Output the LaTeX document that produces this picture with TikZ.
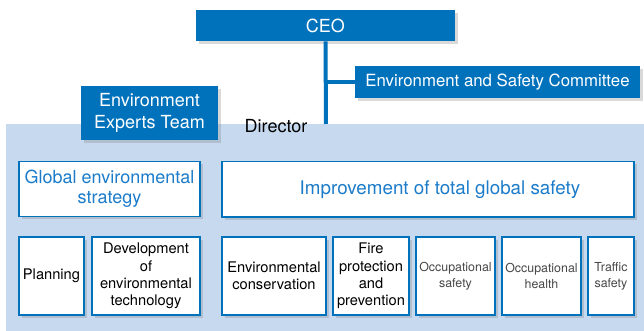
\documentclass[tikz,border=0pt]{standalone}
\usepackage{fontspec}
\setmainfont{TeX Gyre Heros}
\usepackage{xcolor}
\usetikzlibrary{shadows}
\definecolor{orgblue}{RGB}{0,114,188}
\definecolor{orgtext}{RGB}{28,124,202}
\definecolor{orgpale}{RGB}{198,217,239}

\begin{document}
\begin{tikzpicture}[x=0.75pt,y=-0.75pt,
  boxshadow/.style={drop shadow={shadow xshift=2pt,shadow yshift=-2pt,opacity=0.3}},
  bluebox/.style={fill=orgblue,text=white,inner sep=0pt,align=center,boxshadow,
    font=\fontsize{13.5}{16}\selectfont},
  headbox/.style={draw=orgblue,line width=1pt,fill=white,text=orgtext,inner sep=0pt,
    align=center,boxshadow,minimum height=41.5pt,font=\fontsize{13.5}{15}\selectfont},
  unitbox/.style={draw=orgblue,line width=1pt,fill=white,inner sep=0pt,align=center,
    boxshadow,minimum height=58.5pt,font=\fontsize{11}{13}\selectfont},
  thinunit/.style={unitbox,text=black!72,font=\fontsize{9.3}{12}\selectfont},
  orgline/.style={orgblue,line width=3pt}]
\useasboundingbox (0,0) rectangle (644,331);
% fond de la direction
\fill[orgpale] (6,124) rectangle (644,331);

\node[bluebox,minimum width=194.25pt,minimum height=23.25pt] (ceo) at (325.5,25.5) {CEO};
\coordinate (dir) at (326,124);
\draw[orgline] (ceo.south) -- (dir);
\node[bluebox,minimum width=213.75pt,minimum height=24pt,
  font=\fontsize{12.6}{15}\selectfont] (committee) at (497.5,82)
  {Environment and Safety Committee};
\draw[orgline] (ceo.south |- committee.west) -- (committee.west);
\node[bluebox,minimum width=102.75pt,minimum height=40.5pt] (experts) at (149.5,113)
  {Environment\\Experts Team};
\node[font=\fontsize{13.5}{16}\selectfont] (director) at (276,126) {Director};

% deux grands axes
\node[headbox,minimum width=135.75pt] (global) at (109.5,189)
  {Global environmental\\strategy};
\node[headbox,minimum width=309pt,font=\fontsize{14.1}{16}\selectfont] (improve)
  at (428,189.5) {\hspace*{18pt}Improvement of total global safety};

% unités
\node[unitbox,minimum width=48.75pt] (planning) at (51.5,276) {Planning};
\node[unitbox,minimum width=81pt] (devtech) at (146,276)
  {Development\\of\\environmental\\technology};
\node[unitbox,minimum width=78pt] (envcons) at (274,276)
  {Environmental\\conservation};
\node[unitbox,minimum width=57pt] (fire) at (371,276)
  {Fire\\protection\\and\\prevention};
\node[thinunit,minimum width=59.25pt] (occsafety) at (455.5,276)
  {Occupational\\safety};
\node[thinunit,minimum width=59.25pt] (occhealth) at (541.5,276)
  {Occupational\\health};
\node[thinunit,minimum width=34.5pt] (traffic) at (611,276)
  {Traffic\\safety};
\end{tikzpicture}
\end{document}
